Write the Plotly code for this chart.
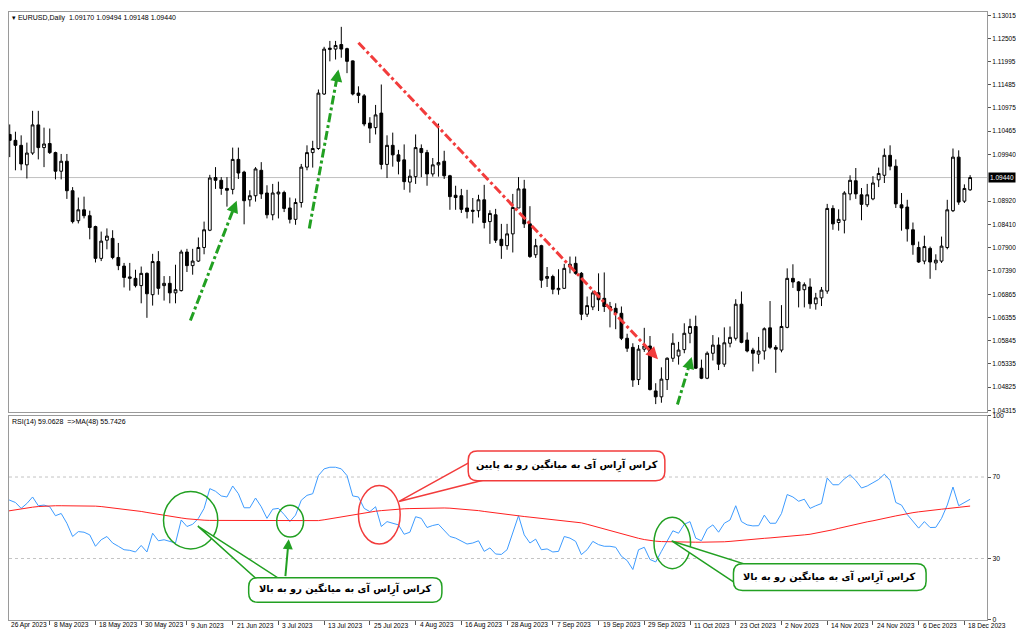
import pandas as pd
import plotly.graph_objects as go

# ---------------- data ----------------
dates = pd.bdate_range("2023-04-26", "2023-12-19")  # 170 daily bars

opens = [1.0968, 1.1039, 1.1026, 1.1015, 1.0972, 1.0998, 1.1060, 1.1010, 1.1019, 1.0999,
         1.0958, 1.0980, 1.0915, 1.0849, 1.0873, 1.0860, 1.0836, 1.0766, 1.0806, 1.0810,
         1.0768, 1.0749, 1.0722, 1.0722, 1.0706, 1.0733, 1.0686, 1.0759, 1.0706, 1.0711,
         1.0690, 1.0695, 1.0780, 1.0750, 1.0760, 1.0790, 1.0828, 1.0944, 1.0938, 1.0920,
         1.0918, 1.0984, 1.0956, 1.0895, 1.0904, 1.0960, 1.0910, 1.0862, 1.0908, 1.0911,
         1.0877, 1.0852, 1.0889, 1.0967, 1.0999, 1.1008, 1.1128, 1.1226, 1.1227, 1.1237,
         1.1228, 1.1201, 1.1130, 1.1124, 1.1064, 1.1054, 1.1086, 1.0973, 1.1015, 1.0994,
         1.0983, 1.0934, 1.0946, 1.1008, 1.0999, 1.0952, 1.0972, 1.0980, 1.0948, 1.0905,
         1.0904, 1.0877, 1.0872, 1.0871, 1.0895, 1.0847, 1.0862, 1.0808, 1.0794, 1.0820,
         1.0877, 1.0919, 1.0842, 1.0774, 1.0794, 1.0722, 1.0726, 1.0697, 1.0700, 1.0747,
         1.0755, 1.0733, 1.0643, 1.0659, 1.0690, 1.0678, 1.0660, 1.0656, 1.0645, 1.0590,
         1.0570, 1.0499, 1.0566, 1.0573, 1.0474, 1.0461, 1.0499, 1.0546, 1.0551, 1.0565,
         1.0601, 1.0616, 1.0524, 1.0502, 1.0557, 1.0575, 1.0533, 1.0579, 1.0590, 1.0665,
         1.0586, 1.0564, 1.0555, 1.0562, 1.0613, 1.0570, 1.0564, 1.0614, 1.0722, 1.0714,
         1.0697, 1.0703, 1.0666, 1.0679, 1.0694, 1.0876, 1.0845, 1.0850, 1.0908, 1.0937,
         1.0906, 1.0884, 1.0897, 1.0939, 1.0949, 1.0993, 1.0969, 1.0884, 1.0879, 1.0829,
         1.0790, 1.0760, 1.0788, 1.0756, 1.0760, 1.0790, 1.0871, 1.0989, 1.0892, 1.09170]
highs = [1.1095, 1.1061, 1.1045, 1.1037, 1.1021, 1.1091, 1.1091, 1.1054, 1.1052, 1.1001,
         1.0996, 1.0996, 1.0923, 1.0900, 1.0902, 1.0871, 1.0838, 1.0825, 1.0832, 1.0828,
         1.0800, 1.0756, 1.0756, 1.0741, 1.0748, 1.0735, 1.0776, 1.0782, 1.0727, 1.0727,
         1.0752, 1.0785, 1.0787, 1.0787, 1.0812, 1.0847, 1.0950, 1.0967, 1.0945, 1.0945,
         1.1010, 1.1010, 1.0959, 1.0916, 1.0967, 1.0978, 1.0927, 1.0930, 1.0935, 1.0915,
         1.0900, 1.0898, 1.0974, 1.1015, 1.1025, 1.1138, 1.1232, 1.1245, 1.1245, 1.1276,
         1.1230, 1.1202, 1.1145, 1.1128, 1.1077, 1.1104, 1.1149, 1.1037, 1.1043, 1.1005,
         1.1017, 1.0962, 1.1039, 1.1017, 1.1005, 1.0987, 1.1063, 1.1003, 1.0950, 1.0926,
         1.0919, 1.0917, 1.0899, 1.0906, 1.0928, 1.0872, 1.0875, 1.0842, 1.0842, 1.0908,
         1.0945, 1.0939, 1.0881, 1.0809, 1.0796, 1.0747, 1.0730, 1.0742, 1.0754, 1.0770,
         1.0770, 1.0736, 1.0682, 1.0695, 1.0733, 1.0735, 1.0670, 1.0667, 1.0660, 1.0600,
         1.0579, 1.0575, 1.0613, 1.0595, 1.0491, 1.0526, 1.0548, 1.0601, 1.0582, 1.0623,
         1.0633, 1.0640, 1.0543, 1.0561, 1.0597, 1.0592, 1.0614, 1.0616, 1.0676, 1.0693,
         1.0603, 1.0569, 1.0593, 1.0614, 1.0672, 1.0575, 1.0663, 1.0744, 1.0753, 1.0716,
         1.0713, 1.0722, 1.0690, 1.0703, 1.0886, 1.0883, 1.0874, 1.0914, 1.0949, 1.0965,
         1.0921, 1.0930, 1.0947, 1.0966, 1.1008, 1.1015, 1.0984, 1.0910, 1.0895, 1.0845,
         1.0803, 1.0816, 1.0792, 1.0775, 1.0814, 1.0895, 1.1008, 1.1004, 1.0929, 1.09494]
lows = [1.0966, 1.0989, 1.0960, 1.0960, 1.0942, 1.0994, 1.0984, 1.0967, 1.0996, 1.0940,
        1.0940, 1.0897, 1.0843, 1.0843, 1.0854, 1.0808, 1.0757, 1.0760, 1.0786, 1.0764,
        1.0740, 1.0702, 1.0695, 1.0702, 1.0667, 1.0635, 1.0662, 1.0686, 1.0673, 1.0667,
        1.0667, 1.0693, 1.0736, 1.0730, 1.0758, 1.0775, 1.0826, 1.0919, 1.0906, 1.0880,
        1.0907, 1.0941, 1.0841, 1.0880, 1.0891, 1.0897, 1.0854, 1.0850, 1.0854, 1.0868,
        1.0843, 1.0840, 1.0878, 1.0960, 1.0966, 1.1005, 1.1126, 1.1200, 1.1204, 1.1208,
        1.1174, 1.1125, 1.1108, 1.1057, 1.1020, 1.1039, 1.0962, 1.0943, 1.0968, 1.0951,
        1.0917, 1.0911, 1.0930, 1.0945, 1.0926, 1.0946, 1.0946, 1.0941, 1.0873, 1.0873,
        1.0866, 1.0854, 1.0843, 1.0856, 1.0832, 1.0798, 1.0800, 1.0765, 1.0785, 1.0779,
        1.0877, 1.0833, 1.0767, 1.0767, 1.0701, 1.0703, 1.0687, 1.0686, 1.0699, 1.0733,
        1.0730, 1.0630, 1.0637, 1.0652, 1.0650, 1.0648, 1.0614, 1.0610, 1.0586, 1.0560,
        1.0483, 1.0487, 1.0560, 1.0475, 1.0445, 1.0448, 1.0476, 1.0538, 1.0532, 1.0557,
        1.0579, 1.0523, 1.0500, 1.0500, 1.0541, 1.0520, 1.0527, 1.0570, 1.0585, 1.0579,
        1.0559, 1.0517, 1.0534, 1.0543, 1.0566, 1.0514, 1.0559, 1.0612, 1.0701, 1.0658,
        1.0658, 1.0655, 1.0653, 1.0661, 1.0688, 1.0829, 1.0827, 1.0821, 1.0894, 1.0897,
        1.0850, 1.0879, 1.0894, 1.0923, 1.0932, 1.0960, 1.0877, 1.0827, 1.0803, 1.0774,
        1.0756, 1.0753, 1.0721, 1.0740, 1.0756, 1.0786, 1.0868, 1.0884, 1.0888, 1.09148]
closes = [1.1036, 1.1026, 1.1015, 1.0974, 1.0998, 1.1060, 1.1010, 1.1018, 1.0999, 1.0958,
          1.0980, 1.0915, 1.0847, 1.0873, 1.0860, 1.0834, 1.0766, 1.0804, 1.0815, 1.0768,
          1.0750, 1.0724, 1.0725, 1.0706, 1.0733, 1.0688, 1.0759, 1.0700, 1.0711, 1.0690,
          1.0697, 1.0780, 1.0750, 1.0760, 1.0790, 1.0829, 1.0943, 1.0938, 1.0920, 1.0916,
          1.0984, 1.0954, 1.0893, 1.0904, 1.0963, 1.0908, 1.0862, 1.0910, 1.0912, 1.0876,
          1.0852, 1.0889, 1.0967, 1.0999, 1.1008, 1.1130, 1.1227, 1.1229, 1.1235, 1.1227,
          1.1200, 1.1128, 1.1125, 1.1062, 1.1053, 1.1082, 1.0973, 1.1015, 1.0994, 1.0980,
          1.0935, 1.0947, 1.1010, 1.0999, 1.0952, 1.0972, 1.0977, 1.0948, 1.0902, 1.0900,
          1.0874, 1.0869, 1.0870, 1.0895, 1.0845, 1.0865, 1.0806, 1.0794, 1.0820, 1.0878,
          1.0919, 1.0842, 1.0770, 1.0794, 1.0718, 1.0726, 1.0698, 1.0700, 1.0744, 1.0753,
          1.0733, 1.0643, 1.0662, 1.0690, 1.0675, 1.0660, 1.0655, 1.0645, 1.0590, 1.0568,
          1.0498, 1.0566, 1.0573, 1.0477, 1.0461, 1.0500, 1.0546, 1.0579, 1.0564, 1.0601,
          1.0616, 1.0524, 1.0502, 1.0557, 1.0575, 1.0533, 1.0580, 1.0592, 1.0665, 1.0581,
          1.0562, 1.0557, 1.0562, 1.0611, 1.0570, 1.0566, 1.0616, 1.0722, 1.0714, 1.0695,
          1.0708, 1.0666, 1.0679, 1.0696, 1.0876, 1.0842, 1.0852, 1.0910, 1.0938, 1.0908,
          1.0885, 1.0906, 1.0932, 1.0953, 1.0993, 1.0969, 1.0886, 1.0877, 1.0831, 1.0796,
          1.0758, 1.0792, 1.0758, 1.0762, 1.0793, 1.0873, 1.0989, 1.0890, 1.0920, 1.09440]

rsi14 = [60.2, 58.6, 57.5, 54.6, 57.0, 60.2, 55.9, 56.2, 55.4, 51.0,
         52.1, 47.3, 40.8, 43.2, 42.9, 41.6, 36.0, 39.2, 40.8, 37.6,
         36.0, 34.3, 34.0, 33.2, 36.4, 33.2, 42.4, 38.7, 39.2, 38.4,
         37.6, 48.9, 45.7, 46.8, 49.7, 54.6, 64.3, 63.0, 60.7, 60.2,
         65.6, 61.8, 54.9, 54.9, 59.7, 55.4, 49.7, 54.2, 54.6, 51.6,
         48.1, 51.3, 58.6, 61.0, 61.8, 70.7, 74.0, 74.8, 74.8, 74.0,
         70.7, 60.7, 60.2, 54.6, 53.0, 55.4, 45.7, 48.1, 47.3, 46.5,
         41.9, 42.9, 50.5, 49.7, 45.2, 46.2, 46.8, 44.0, 40.8, 40.0,
         38.4, 37.1, 37.6, 38.7, 33.5, 35.2, 32.2, 32.0, 34.3, 42.9,
         51.0, 41.6, 37.6, 39.5, 34.3, 34.7, 33.2, 33.5, 40.8, 40.0,
         38.4, 31.9, 34.3, 38.4, 36.8, 36.0, 36.0, 35.5, 31.1, 29.0,
         24.6, 34.3, 35.5, 29.5, 28.3, 33.5, 38.4, 43.6, 42.4, 46.8,
         48.1, 40.0, 38.7, 44.5, 46.5, 42.9, 47.3, 48.9, 55.9, 48.1,
         46.5, 46.0, 46.1, 51.3, 47.3, 47.3, 52.1, 61.4, 60.2, 58.1,
         59.1, 54.6, 55.9, 57.0, 69.5, 66.2, 66.2, 69.1, 71.1, 68.3,
         64.6, 65.6, 67.2, 68.8, 71.4, 68.3, 57.5, 56.2, 51.6, 48.1,
         44.9, 48.1, 45.2, 45.3, 49.7, 56.2, 65.1, 55.9, 57.3, 59.0628]

rsi_ma48 = [53.0, 53.5, 54.0, 54.5, 54.9, 55.2, 55.5, 55.7, 55.8, 55.9,
            55.9, 55.9, 55.9, 55.9, 55.9, 55.8, 55.7, 55.5, 55.2, 54.9,
            54.5, 54.2, 53.9, 53.5, 53.1, 52.6, 52.1, 51.6, 51.2, 50.8,
            50.3, 49.9, 49.5, 49.2, 48.9, 48.8, 48.7, 48.7, 48.7, 48.7,
            48.7, 48.7, 48.6, 48.6, 48.6, 48.6, 48.6, 48.5, 48.5, 48.4,
            48.4, 48.4, 48.4, 48.4, 48.4, 48.6, 49.0, 49.5, 50.0, 50.5,
            51.0, 51.5, 52.0, 52.4, 52.8, 53.2, 53.5, 53.8, 54.0, 54.2,
            54.4, 54.5, 54.6, 54.7, 54.8, 54.9, 54.9, 54.8, 54.7, 54.5,
            54.3, 54.1, 53.8, 53.5, 53.1, 52.7, 52.3, 51.9, 51.5, 51.2,
            50.9, 50.6, 50.3, 50.0, 49.7, 49.4, 49.1, 48.9, 48.6, 48.3,
            48.1, 47.5, 46.8, 46.0, 45.2, 44.4, 43.6, 42.8, 42.0, 41.2,
            40.5, 39.9, 39.3, 38.8, 38.5, 38.3, 38.2, 38.1, 38.1, 38.0,
            38.0, 38.0, 38.0, 38.0, 38.0, 38.1, 38.2, 38.4, 38.7, 39.0,
            39.3, 39.5, 39.7, 39.9, 40.1, 40.3, 40.5, 40.8, 41.0, 41.3,
            41.6, 41.9, 42.4, 42.9, 43.5, 44.1, 44.8, 45.5, 46.2, 46.8,
            47.4, 48.0, 48.5, 49.0, 49.6, 50.3, 50.9, 51.5, 52.0, 52.5,
            52.9, 53.3, 53.6, 53.9, 54.2, 54.5, 54.8, 55.1, 55.4, 55.7426]

price_ticks = [1.13015, 1.12505, 1.11995, 1.11485, 1.10975, 1.10465, 1.09940, 1.08920,
               1.08410, 1.07900, 1.07390, 1.06865, 1.06355, 1.05845, 1.05335, 1.04825, 1.04315]
rsi_ticks = [0, 30, 70, 100]
rsi_levels = [30, 70]
label_step = 8

# ---------------- page geometry ----------------
# the page keeps the browser's default 8px body margin, so the figure is
# 16px smaller than the window and sits at (8, 8)
OFF = 8
W, H = 1024 - 2 * OFF, 639 - 2 * OFF


def px(x):  # window pixel -> paper x
    return (x - OFF) / W


def py(y):  # window pixel -> paper y
    return 1 - (y - OFF) / H


idx = list(range(len(dates)))
tick_pos = idx[::label_step]
tick_txt = [dates[i].strftime("%-d %b %Y") for i in tick_pos]

GREEN = "#22a022"
RED = "#f23c3c"
FONT = "Liberation Sans"
FA_FONT = "DejaVu Sans"

fig = go.Figure()
fig.add_trace(go.Candlestick(
    x=idx, open=opens, high=highs, low=lows, close=closes,
    xaxis="x", yaxis="y",
    increasing=dict(line=dict(color="#000000", width=1), fillcolor="#ffffff"),
    decreasing=dict(line=dict(color="#000000", width=1), fillcolor="#000000"),
    whiskerwidth=0, showlegend=False))
fig.add_trace(go.Scatter(x=idx, y=rsi14, mode="lines", xaxis="x2", yaxis="y2",
                         line=dict(color="#3d9bff", width=1), showlegend=False))
fig.add_trace(go.Scatter(x=idx, y=rsi_ma48, mode="lines", xaxis="x2", yaxis="y2",
                         line=dict(color="#ff2020", width=1), showlegend=False))

XD = [0, px(988)]
XR = [(OFF - 3) / 5.728, (988 - 3) / 5.728]
axis_line = dict(showline=True, linecolor="#9a9a9a", linewidth=1, mirror=True,
                 showgrid=False, zeroline=False)

fig.update_layout(
    width=W, height=H,
    margin=dict(l=0, r=0, t=0, b=0),
    paper_bgcolor="white", plot_bgcolor="white",
    hovermode=False, showlegend=False,
    font=dict(family=FONT, size=7, color="#000"),
    xaxis=dict(domain=XD, range=XR, anchor="y", showticklabels=False, ticks="",
               rangeslider=dict(visible=False), **axis_line),
    yaxis=dict(domain=[py(413), 1], range=[1.04266, 1.13087],
               side="right", anchor="x", tickvals=price_ticks,
               ticktext=[f"{v:.5f}" for v in price_ticks],
               ticks="outside", ticklen=3, tickcolor="#555",
               tickfont=dict(family=FONT, size=6.5, color="#000"), **axis_line),
    xaxis2=dict(domain=XD, range=XR, anchor="y2", matches="x",
                tickmode="array", tickvals=tick_pos, showticklabels=False,
                ticks="outside", ticklen=4, tickcolor="#555", **axis_line),
    yaxis2=dict(domain=[py(622.5), py(416.5)], range=[0, 100],
                side="right", anchor="x2", tickvals=rsi_ticks,
                ticks="outside", ticklen=3, tickcolor="#555",
                tickfont=dict(family=FONT, size=6.8, color="#000"), **axis_line),
)

shapes = []
annotations = []
# current price line
shapes.append(dict(type="line", xref="x", yref="y", x0=XR[0], x1=XR[1],
                   y0=closes[-1], y1=closes[-1], line=dict(color="#c0c0c0", width=1), layer="below"))
# RSI levels
for lv in rsi_levels:
    shapes.append(dict(type="line", xref="x2", yref="y2", x0=XR[0], x1=XR[1], y0=lv, y1=lv,
                       line=dict(color="#c4c4c4", width=1, dash="3px,3px"), layer="below"))

# date labels (text starts just right of each tick, as in MT4)
for p, t in zip(tick_pos, tick_txt):
    annotations.append(dict(x=max(p + 0.35, XR[0]), y=py(628), xref="x2", yref="paper",
                            text=t, showarrow=False, xanchor="left", yanchor="middle",
                            font=dict(family=FONT, size=6.6, color="#000")))

# dash-dot trend arrows on price chart
trend_arrows = [  # (x_start, y_start, x_tip, y_tip, color, head fraction)
    (32.6, 1.0629, 40.7, 1.0893, GREEN, 0.08),
    (53.4, 1.0832, 58.5, 1.1182, GREEN, 0.06),
    (62.0, 1.1241, 114.4, 1.0544, RED, 0.02),
    (117.8, 1.0444, 120.3, 1.0549, GREEN, 0.2),
]
for xs, ys, xt, yt, c, f in trend_arrows:
    shapes.append(dict(type="line", xref="x", yref="y", x0=xs, y0=ys,
                       x1=xt - 0.5 * f * (xt - xs), y1=yt - 0.5 * f * (yt - ys),
                       line=dict(color=c, width=3, dash="dashdot")))
    annotations.append(dict(x=xt, y=yt, ax=xt - f * (xt - xs), ay=yt - f * (yt - ys),
                            xref="x", yref="y", axref="x", ayref="y", text="",
                            showarrow=True, arrowhead=2, arrowsize=0.8, arrowwidth=3,
                            arrowcolor=c, standoff=0))

# ellipses on RSI
ellipses = [(27.9, 37.4, 34.7, 62.9, GREEN), (47.7, 52.4, 40.5, 56.1, GREEN),
            (62.0, 69.3, 37.1, 65.8, RED), (113.7, 120.1, 25.0, 50.2, GREEN)]
for x0, x1, y0, y1, c in ellipses:
    shapes.append(dict(type="circle", xref="x2", yref="y2", x0=x0, x1=x1, y0=y0, y1=y1,
                       line=dict(color=c, width=1.5)))


def rounded(x0, x1, y0, y1, rx=1.6, ry=4.5):
    return (f"M {x0+rx},{y1} L {x1-rx},{y1} Q {x1},{y1} {x1},{y1-ry} L {x1},{y0+ry} "
            f"Q {x1},{y0} {x1-rx},{y0} L {x0+rx},{y0} Q {x0},{y0} {x0},{y0+ry} "
            f"L {x0},{y1-ry} Q {x0},{y1} {x0+rx},{y1} Z")


callouts = [
    # wedge base1, tip, base2, box, text, color
    ((81.9, 77.9), (69.1, 58.0), (84.1, 68.7), (81.2, 115.6, 68.2, 82.8),
     "کراس آرِاس آی به میانگین رو به پایین", RED),
    ((44.3, 19.6), (33.9, 45.9), (48.4, 19.6), (42.8, 76.6, 8.5, 20.6),
     "کراس آرِاس آی به میانگین رو به بالا", GREEN),
    ((128.0, 17.8), (116.8, 38.6), (130.4, 26.5), (127.6, 161.3, 14.3, 27.4),
     "کراس آرِاس آی به میانگین رو به بالا", GREEN),
]
for b1, tip, b2, box, txt, c in callouts:
    shapes.append(dict(type="path", xref="x2", yref="y2",
                       path=f"M {b1[0]},{b1[1]} L {tip[0]},{tip[1]} L {b2[0]},{b2[1]} Z",
                       fillcolor="white", line=dict(color=c, width=1.5)))
    x0, x1, y0, y1 = box
    shapes.append(dict(type="path", xref="x2", yref="y2", path=rounded(x0, x1, y0, y1),
                       fillcolor="white", line=dict(color=c, width=1.5)))
    annotations.append(dict(x=(x0 + x1) / 2, y=(y0 + y1) / 2, xref="x2", yref="y2",
                            text=f"<b>{txt}</b>", showarrow=False,
                            font=dict(family=FA_FONT, size=9.8, color="#000")))

# vertical arrow to the small circle
annotations.append(dict(x=49.8, y=39.5, ax=49.2, ay=20.6, xref="x2", yref="y2",
                        axref="x2", ayref="y2", text="", showarrow=True, arrowhead=2,
                        arrowsize=1, arrowwidth=2, arrowcolor=GREEN, standoff=0))

# header texts
annotations.append(dict(xref="paper", yref="paper", x=px(9), y=1,
                        xanchor="left", yanchor="top", showarrow=False,
                        text="▾ EURUSD,Daily  1.09170 1.09494 1.09148 1.09440",
                        font=dict(family=FONT, size=7, color="#000")))
annotations.append(dict(xref="paper", yref="paper", x=px(9), y=py(423),
                        xanchor="left", yanchor="middle", showarrow=False,
                        text=f"RSI(14) {rsi14[-1]:.4f}  =>MA(48) {rsi_ma48[-1]:.4f}",
                        font=dict(family=FONT, size=7, color="#000")))
# current price tag
annotations.append(dict(xref="paper", yref="y", x=px(989), y=closes[-1],
                        xanchor="left", yanchor="middle", showarrow=False,
                        text=f"{closes[-1]:.5f}", bgcolor="#000", borderpad=1,
                        font=dict(family=FONT, size=6.5, color="#fff")))

fig.update_layout(shapes=shapes, annotations=annotations)
fig.write_html("out.html", config={"displayModeBar": False})
